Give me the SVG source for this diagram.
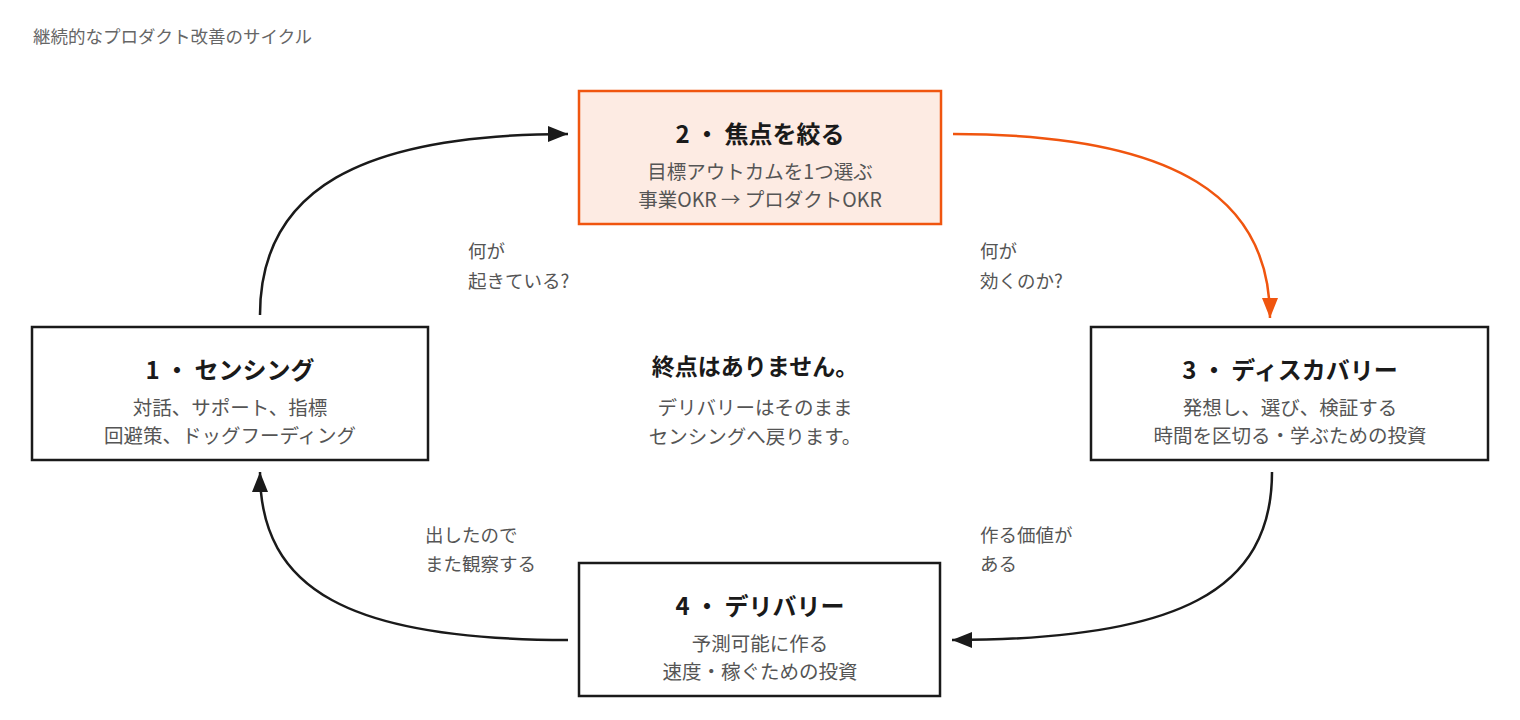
<svg xmlns="http://www.w3.org/2000/svg" width="1520" height="720" viewBox="0 0 1520 720">
<style>
text{font-family:"Noto Sans CJK JP","Noto Sans",sans-serif}
.box{fill:#fff;stroke:#1a1a1a;stroke-width:2.5}
.hl{fill:#fdebe3;stroke:#f0550f;stroke-width:2.5}
.t{font-size:24px;font-weight:700;fill:#1a1a1a;text-anchor:middle}
.s{font-size:19.5px;fill:#555;text-anchor:middle}
.l{font-size:18.5px;fill:#555}
.c{fill:none;stroke:#1a1a1a;stroke-width:2.5}
.co{fill:none;stroke:#f0550f;stroke-width:2.5}
</style>
<defs>
<marker id="ak" viewBox="0 0 20 16" refX="20" refY="8" markerWidth="20" markerHeight="16" orient="auto" markerUnits="userSpaceOnUse"><path d="M0,0 L20,8 L0,16 z" fill="#1a1a1a"/></marker>
<marker id="ao" viewBox="0 0 20 16" refX="20" refY="8" markerWidth="20" markerHeight="16" orient="auto" markerUnits="userSpaceOnUse"><path d="M0,0 L20,8 L0,16 z" fill="#f0550f"/></marker>
</defs>
<rect width="1520" height="720" fill="#fff"/>
<text x="33" y="43" style="font-size:17.5px;fill:#666">継続的なプロダクト改善のサイクル</text>
<g id="connectors">
<path class="c" d="M260,315 C260,190 360,134 568,134" marker-end="url(#ak)"/>
<path class="co" d="M953,134 C1180,134 1270,200 1270,318" marker-end="url(#ao)"/>
<path class="c" d="M1272,472 C1272,590 1180,640 952,640" marker-end="url(#ak)"/>
<path class="c" d="M568,640 C350,640 260,590 260,472" marker-end="url(#ak)"/>
</g>
<g id="labels">
<text class="l" x="468" y="258">何が</text>
<text class="l" x="468" y="288">起きている?</text>
<text class="l" x="980" y="258">何が</text>
<text class="l" x="980" y="288">効くのか?</text>
<text class="l" x="980" y="542">作る価値が</text>
<text class="l" x="980" y="571">ある</text>
<text class="l" x="425" y="542">出したので</text>
<text class="l" x="425" y="571">また観察する</text>
</g>
<g id="center">
<text class="t" x="755" y="375" style="font-size:23px">終点はありません。</text>
<text class="s" x="755" y="415">デリバリーはそのまま</text>
<text class="s" x="755" y="444">センシングへ戻ります。</text>
</g>
<g id="n2"><rect class="hl" x="579" y="91" width="362" height="133"/>
<text class="t" x="760" y="143">2 ・ 焦点を絞る</text>
<text class="s" x="760" y="179">目標アウトカムを1つ選ぶ</text>
<text class="s" x="760" y="207">事業OKR → プロダクトOKR</text></g>
<g id="n1"><rect class="box" x="32" y="327" width="396" height="133"/>
<text class="t" x="230" y="379">1 ・ センシング</text>
<text class="s" x="230" y="415">対話、サポート、指標</text>
<text class="s" x="230" y="443">回避策、ドッグフーディング</text></g>
<g id="n3"><rect class="box" x="1091" y="327" width="397" height="133"/>
<text class="t" x="1290" y="379">3 ・ ディスカバリー</text>
<text class="s" x="1290" y="415">発想し、選び、検証する</text>
<text class="s" x="1290" y="443">時間を区切る・学ぶための投資</text></g>
<g id="n4"><rect class="box" x="579" y="563" width="361" height="133"/>
<text class="t" x="760" y="615">4 ・ デリバリー</text>
<text class="s" x="760" y="651">予測可能に作る</text>
<text class="s" x="760" y="679">速度・稼ぐための投資</text></g>
</svg>
